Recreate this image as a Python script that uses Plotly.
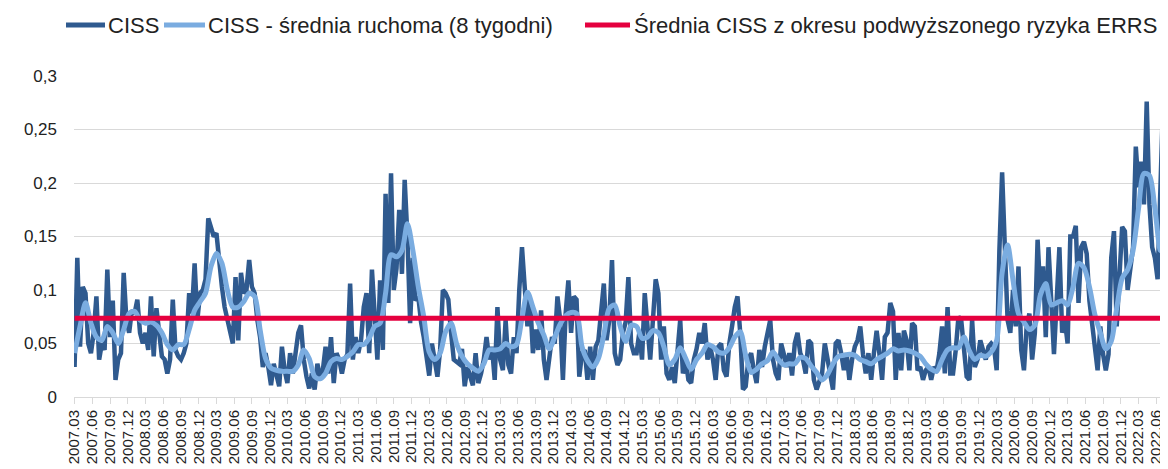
import plotly.graph_objects as go
import pandas as pd

# ---- data ----
START = "2007-03-02"

# CISS, one value every 2 weeks
CISS = [
    0.028, 0.13, 0.047, 0.103, 0.097, 0.05, 0.041, 0.06, 0.094, 0.035,
    0.05, 0.044, 0.119, 0.056, 0.09, 0.016, 0.035, 0.041, 0.116, 0.072,
    0.06, 0.081, 0.078, 0.091, 0.06, 0.05, 0.06, 0.044, 0.094, 0.038,
    0.083, 0.056, 0.038, 0.035, 0.022, 0.035, 0.091, 0.044, 0.038, 0.035,
    0.041, 0.05, 0.097, 0.078, 0.125, 0.072, 0.097, 0.1, 0.11, 0.167,
    0.159, 0.15, 0.153, 0.125, 0.103, 0.084, 0.072, 0.058, 0.05, 0.112,
    0.053, 0.116, 0.097, 0.1, 0.128, 0.103, 0.097, 0.072, 0.056, 0.028,
    0.041, 0.028, 0.011, 0.031, 0.019, 0.01, 0.047, 0.025, 0.013, 0.041,
    0.022, 0.041, 0.06, 0.067, 0.035, 0.019, 0.008, 0.022, 0.007, 0.031,
    0.019, 0.025, 0.047, 0.022, 0.056, 0.013, 0.041, 0.035, 0.022, 0.035,
    0.04, 0.106, 0.035, 0.056, 0.041, 0.053, 0.084, 0.097, 0.041, 0.119,
    0.072, 0.035, 0.109, 0.044, 0.19, 0.088, 0.209, 0.1, 0.12, 0.175,
    0.115, 0.203, 0.15, 0.069, 0.13, 0.09, 0.094, 0.07, 0.056, 0.04,
    0.02, 0.05, 0.035, 0.019, 0.044, 0.1, 0.097, 0.091, 0.06, 0.035,
    0.033, 0.031, 0.045, 0.01, 0.028, 0.02, 0.011, 0.041, 0.013, 0.022,
    0.035, 0.056, 0.035, 0.047, 0.016, 0.084, 0.035, 0.025, 0.072, 0.03,
    0.022, 0.056, 0.041, 0.1, 0.14, 0.103, 0.066, 0.091, 0.041, 0.063,
    0.044, 0.081, 0.035, 0.016, 0.035, 0.056, 0.05, 0.094, 0.072, 0.016,
    0.078, 0.109, 0.06, 0.094, 0.091, 0.019, 0.041, 0.044, 0.016, 0.047,
    0.016, 0.047, 0.053, 0.075, 0.106, 0.053, 0.072, 0.128, 0.041, 0.03,
    0.035, 0.06, 0.07, 0.112, 0.05, 0.041, 0.041, 0.06, 0.035, 0.097,
    0.07, 0.035, 0.072, 0.11, 0.097, 0.035, 0.066, 0.022, 0.016, 0.028,
    0.013, 0.05, 0.072, 0.022, 0.035, 0.016, 0.013, 0.035, 0.045, 0.06,
    0.05, 0.069, 0.035, 0.047, 0.035, 0.016, 0.047, 0.05, 0.025, 0.019,
    0.05, 0.066, 0.084, 0.094, 0.06, 0.007, 0.01, 0.035, 0.041, 0.025,
    0.013, 0.044, 0.028, 0.047, 0.06, 0.072, 0.035, 0.022, 0.016, 0.05,
    0.04, 0.028, 0.041, 0.02, 0.05, 0.06, 0.041, 0.035, 0.022, 0.053,
    0.05, 0.016, 0.007, 0.016, 0.022, 0.05, 0.035, 0.016, 0.007, 0.05,
    0.053, 0.041, 0.025, 0.041, 0.016, 0.035, 0.047, 0.053, 0.066, 0.04,
    0.022, 0.041, 0.016, 0.041, 0.062, 0.041, 0.016, 0.056, 0.06, 0.088,
    0.08, 0.016, 0.06, 0.025, 0.062, 0.053, 0.025, 0.069, 0.066, 0.025,
    0.028, 0.016, 0.025, 0.028, 0.016, 0.028, 0.025, 0.041, 0.066, 0.022,
    0.084, 0.022, 0.022, 0.044, 0.075, 0.072, 0.041, 0.019, 0.016, 0.072,
    0.028, 0.035, 0.053, 0.044, 0.035, 0.047, 0.05, 0.047, 0.025, 0.137,
    0.21, 0.14, 0.072, 0.06, 0.1, 0.066, 0.122, 0.044, 0.025, 0.066,
    0.078, 0.035, 0.06, 0.147, 0.097, 0.122, 0.056, 0.14, 0.08, 0.04,
    0.09, 0.14, 0.06, 0.072, 0.05, 0.15, 0.15, 0.16, 0.088, 0.14,
    0.145, 0.134, 0.09, 0.065, 0.04, 0.025, 0.066, 0.04, 0.025, 0.04,
    0.13, 0.155, 0.066, 0.11, 0.159, 0.155, 0.1, 0.12, 0.14, 0.234,
    0.196, 0.22, 0.18, 0.276, 0.18, 0.14, 0.13, 0.11, 0.2, 0.276,
    0.14,
]

# CISS 8-week moving average, one value every 4 weeks
CISS_MA = [
    0.041, 0.066, 0.088, 0.069, 0.056, 0.053, 0.066, 0.06, 0.05, 0.063,
    0.078, 0.08, 0.072, 0.069, 0.07, 0.067, 0.06, 0.049, 0.044, 0.049,
    0.049, 0.063, 0.081, 0.089, 0.097, 0.122, 0.134, 0.125, 0.1, 0.084,
    0.084, 0.089, 0.097, 0.094, 0.063, 0.036, 0.027, 0.025, 0.024, 0.024,
    0.024, 0.03, 0.044, 0.036, 0.019, 0.017, 0.022, 0.033, 0.036, 0.035,
    0.038, 0.042, 0.049, 0.049, 0.055, 0.066, 0.069, 0.097, 0.133, 0.131,
    0.137, 0.162, 0.137, 0.103, 0.075, 0.042, 0.035, 0.041, 0.061, 0.069,
    0.05, 0.038, 0.031, 0.027, 0.024, 0.031, 0.044, 0.044, 0.045, 0.05,
    0.047, 0.049, 0.074, 0.098, 0.084, 0.069, 0.058, 0.045, 0.056, 0.068,
    0.076, 0.079, 0.078, 0.047, 0.034, 0.028, 0.036, 0.058, 0.083, 0.086,
    0.066, 0.052, 0.067, 0.066, 0.055, 0.056, 0.062, 0.06, 0.047, 0.03,
    0.035, 0.046, 0.036, 0.026, 0.035, 0.041, 0.049, 0.047, 0.042, 0.041,
    0.046, 0.056, 0.061, 0.039, 0.023, 0.026, 0.031, 0.034, 0.042, 0.035,
    0.03, 0.031, 0.031, 0.037, 0.036, 0.029, 0.023, 0.016, 0.021, 0.031,
    0.038, 0.039, 0.04, 0.039, 0.035, 0.033, 0.031, 0.035, 0.038, 0.041,
    0.045, 0.043, 0.044, 0.043, 0.041, 0.038, 0.031, 0.026, 0.024, 0.035,
    0.044, 0.046, 0.046, 0.056, 0.043, 0.035, 0.039, 0.038, 0.042, 0.053,
    0.116, 0.142, 0.109, 0.078, 0.07, 0.063, 0.067, 0.095, 0.106, 0.086,
    0.088, 0.09, 0.086, 0.103, 0.125, 0.121, 0.103, 0.077, 0.06, 0.045,
    0.052, 0.083, 0.111, 0.119, 0.137, 0.176, 0.209, 0.207, 0.176, 0.137,
    0.19,
]

# average CISS in the period of elevated systemic risk (ERRS)
ERRS_LEVEL = 0.0735

NAMES = [
    "CISS",
    "CISS - średnia ruchoma (8 tygodni)",
    "Średnia CISS z okresu podwyższonego ryzyka ERRS",
]

# category-axis labels: one every 13 weekly categories
TICK_LABELS = [f"{y}.{m:02d}" for y in range(2007, 2023) for m in (3, 6, 9, 12)][:62]
TICK_STEP_WEEKS = 13

ciss_dates = pd.date_range(START, periods=len(CISS), freq="14D")
ma_dates = pd.date_range(START, periods=len(CISS_MA), freq="28D")
tick_dates = pd.date_range(START, periods=len(TICK_LABELS), freq=f"{7 * TICK_STEP_WEEKS}D")

DARK = "#2F5A8F"
LIGHT = "#7AACE0"
RED = "#E5003F"
FONT = "Liberation Sans, Arial, sans-serif"
TXT = "#222222"

# the page adds an 8 px body margin, so the figure is 8 px smaller each way
W, H = 1160, 461
ML, MR, MT, MB = 66, 2, 68, 72
PW, PH = W - ML - MR, H - MT - MB

fig = go.Figure()
fig.add_trace(go.Scatter(
    x=ciss_dates, y=CISS, mode="lines", name=NAMES[0],
    line=dict(color=DARK, width=4.5),
))
fig.add_trace(go.Scatter(
    x=ma_dates, y=CISS_MA, mode="lines", name=NAMES[1],
    line=dict(color=LIGHT, width=5, shape="spline", smoothing=0.8),
))
fig.add_trace(go.Scatter(
    x=[ciss_dates[0], ciss_dates[-1]], y=[ERRS_LEVEL, ERRS_LEVEL],
    mode="lines", name=NAMES[2],
    line=dict(color=RED, width=5),
))

# legend drawn above the plot (figure pixel positions -> paper coords)
def px_x(px):
    return (px - ML) / PW


def px_y(py):
    return (MT + PH - py) / PH


LEG_Y = 17
legend_layout = [  # (sample start, sample end, text start) in figure px
    (58, 97, 99),
    (156, 197, 199),
    (577, 622, 625),
]
shapes, annotations = [], []
for name, color, (s0, s1, t0) in zip(NAMES, [DARK, LIGHT, RED], legend_layout):
    shapes.append(dict(
        type="line", xref="paper", yref="paper",
        x0=px_x(s0), x1=px_x(s1), y0=px_y(LEG_Y), y1=px_y(LEG_Y),
        line=dict(color=color, width=5),
    ))
    annotations.append(dict(
        text=name, xref="paper", yref="paper",
        x=px_x(t0), y=px_y(LEG_Y), xanchor="left", yanchor="middle",
        showarrow=False, borderpad=0,
        font=dict(size=22, family=FONT, color=TXT),
    ))

fig.update_layout(
    width=W, height=H,
    margin=dict(l=ML, r=MR, t=MT, b=MB),
    paper_bgcolor="white", plot_bgcolor="white",
    separators=", ",
    font=dict(family=FONT, color=TXT),
    showlegend=False,
    shapes=shapes,
    annotations=annotations,
    xaxis=dict(
        type="date",
        range=["2007-02-27", "2022-07-02"],
        tickmode="array", tickvals=tick_dates, ticktext=TICK_LABELS,
        tickangle=-90,
        ticks="outside", ticklen=6, tickcolor="#D9D9D9",
        showline=True, linecolor="#D9D9D9", linewidth=1,
        showgrid=False, zeroline=False,
        tickfont=dict(size=15, family=FONT, color=TXT),
        automargin=False,
    ),
    yaxis=dict(
        range=[0, 0.3], tick0=0, dtick=0.05,
        showgrid=True, gridcolor="#D9D9D9", gridwidth=1,
        zeroline=False, showline=False,
        ticks="", ticklabelstandoff=16,
        tickfont=dict(size=17, family=FONT, color=TXT),
        automargin=False,
    ),
)

fig.write_html("out.html")
